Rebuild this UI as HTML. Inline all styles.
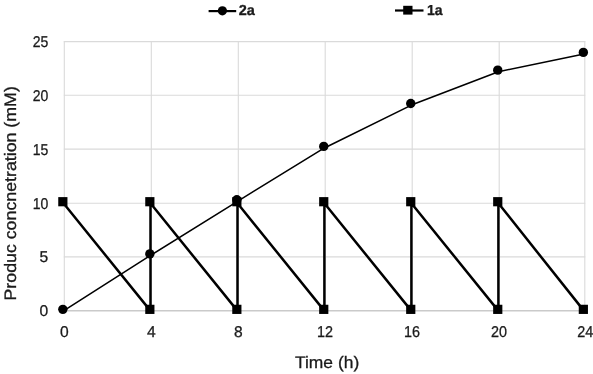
<!DOCTYPE html>
<html><head><meta charset="utf-8"><style>
html,body{margin:0;padding:0;background:#fff;}
body{width:593px;height:374px;overflow:hidden;}
svg{display:block;will-change:transform;}
text{text-rendering:geometricPrecision;font-family:"Liberation Sans",sans-serif;fill:#1a1a1a;stroke:#1a1a1a;stroke-width:0.3px;}
</style></head><body>
<svg width="593" height="374" viewBox="0 0 593 374">
<rect width="593" height="374" fill="#fff"/>
<g stroke="#dadada" stroke-width="1.1" fill="none">
<line x1="64.3" y1="41.1" x2="64.3" y2="310.7"/><line x1="151.3" y1="41.1" x2="151.3" y2="310.7"/><line x1="238.3" y1="41.1" x2="238.3" y2="310.7"/><line x1="325.2" y1="41.1" x2="325.2" y2="310.7"/><line x1="412.2" y1="41.1" x2="412.2" y2="310.7"/><line x1="499.2" y1="41.1" x2="499.2" y2="310.7"/><line x1="584.8" y1="41.1" x2="584.8" y2="310.7"/><line x1="63.8" y1="41.6" x2="585.3" y2="41.6"/><line x1="63.8" y1="95.2" x2="585.3" y2="95.2"/><line x1="63.8" y1="149.1" x2="585.3" y2="149.1"/><line x1="63.8" y1="203.2" x2="585.3" y2="203.2"/><line x1="63.8" y1="256.9" x2="585.3" y2="256.9"/>
</g>
<line x1="63.8" y1="310.7" x2="585.3" y2="310.7" stroke="#cacaca" stroke-width="1.4"/>
<path d="M63.50,203.26 L150.50,310.90 L150.50,203.26 L237.50,310.90 L237.50,203.26 L324.40,310.90 L324.40,203.26 L411.40,310.90 L411.40,203.26 L498.40,310.90 L498.40,203.26 L584.00,310.90" fill="none" stroke="#000" stroke-width="2.5" stroke-linejoin="round"/>
<path d="M63.50,310.90 L150.50,255.47 L237.50,201.32 L324.40,147.93 L411.40,105.09 L498.40,71.72 L584.00,53.96" fill="none" stroke="#000" stroke-width="1.55" stroke-linejoin="round"/>
<g fill="#000"><rect x="58.25" y="197.11" width="9.2" height="9.2"/><rect x="145.25" y="304.75" width="9.2" height="9.2"/><rect x="145.25" y="197.11" width="9.2" height="9.2"/><rect x="232.25" y="304.75" width="9.2" height="9.2"/><rect x="232.25" y="197.11" width="9.2" height="9.2"/><rect x="319.15" y="304.75" width="9.2" height="9.2"/><rect x="319.15" y="197.11" width="9.2" height="9.2"/><rect x="406.15" y="304.75" width="9.2" height="9.2"/><rect x="406.15" y="197.11" width="9.2" height="9.2"/><rect x="493.15" y="304.75" width="9.2" height="9.2"/><rect x="493.15" y="197.11" width="9.2" height="9.2"/><rect x="578.75" y="304.75" width="9.2" height="9.2"/></g>
<g fill="#000"><circle cx="62.85" cy="309.35" r="4.70"/><circle cx="149.85" cy="253.92" r="4.70"/><circle cx="236.85" cy="199.77" r="4.70"/><circle cx="323.75" cy="146.38" r="4.70"/><circle cx="410.75" cy="103.54" r="4.70"/><circle cx="497.75" cy="70.17" r="4.70"/><circle cx="583.35" cy="52.41" r="4.70"/></g>
<g font-size="15.6"><text transform="translate(48.3,47.10) scale(1,1.0)" text-anchor="end" textLength="15.6" lengthAdjust="spacingAndGlyphs">25</text><text transform="translate(48.3,100.70) scale(1,1.0)" text-anchor="end" textLength="15.6" lengthAdjust="spacingAndGlyphs">20</text><text transform="translate(48.3,154.60) scale(1,1.0)" text-anchor="end" textLength="15.6" lengthAdjust="spacingAndGlyphs">15</text><text transform="translate(48.3,208.70) scale(1,1.0)" text-anchor="end" textLength="15.6" lengthAdjust="spacingAndGlyphs">10</text><text transform="translate(48.3,262.40) scale(1,1.0)" text-anchor="end">5</text><text transform="translate(48.3,316.20) scale(1,1.0)" text-anchor="end">0</text><text transform="translate(64.30,337.2) scale(1,1.0)" text-anchor="middle">0</text><text transform="translate(151.30,337.2) scale(1,1.0)" text-anchor="middle">4</text><text transform="translate(238.30,337.2) scale(1,1.0)" text-anchor="middle">8</text><text transform="translate(317.10,337.2) scale(1,1.0)" textLength="16.0" lengthAdjust="spacingAndGlyphs">12</text><text transform="translate(404.10,337.2) scale(1,1.0)" textLength="16.0" lengthAdjust="spacingAndGlyphs">16</text><text transform="translate(491.10,337.2) scale(1,1.0)" textLength="16.0" lengthAdjust="spacingAndGlyphs">20</text><text transform="translate(577.30,337.2) scale(1,1.0)" textLength="16.0" lengthAdjust="spacingAndGlyphs">24</text></g>
<text x="295.0" y="368" font-size="16.6" textLength="64.2" lengthAdjust="spacingAndGlyphs">Time (h)</text>
<text transform="translate(16.0,300.5) rotate(-90)" font-size="16.6" textLength="214.3" lengthAdjust="spacingAndGlyphs">Produc concnetration (mM)</text>
<g stroke="#000" stroke-width="2.2"><line x1="208.6" y1="11.1" x2="236.2" y2="11.1"/><line x1="395" y1="10.5" x2="423.5" y2="10.5"/></g>
<circle cx="222.4" cy="10.8" r="4.6" fill="#000"/>
<rect x="403.2" y="5.8" width="9.3" height="8.8" fill="#000"/>
<text x="238.8" y="14.8" font-size="14.5" font-weight="bold">2a</text>
<text x="426.9" y="14.9" font-size="14.5" font-weight="bold" textLength="15.6" lengthAdjust="spacingAndGlyphs">1a</text>
</svg>
</body></html>
